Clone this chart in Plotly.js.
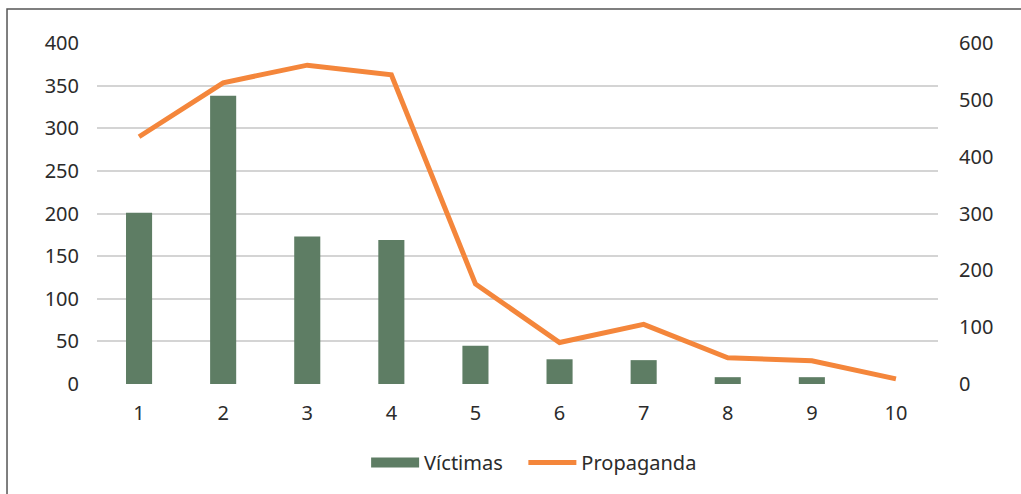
<!DOCTYPE html>
<html>
<head>
<meta charset="utf-8">
<script src="https://cdn.plot.ly/plotly-3.0.1.min.js"></script>
<style>
  html, body { margin: 0; padding: 0; background: #ffffff; }
  #chart { width: 1021px; height: 494px; }
</style>
</head>
<body>
<div id="chart"></div>
<script>
const categories = ['1', '2', '3', '4', '5', '6', '7', '8', '9', '10'];
const victimas = [201, 338, 173, 169, 45, 29, 28, 8, 8, 0];
const propaganda = [435, 530, 561, 544, 176, 73, 105, 46, 41, 9];
const leftTicks = [0, 50, 100, 150, 200, 250, 300, 350, 400];
const rightTicks = [0, 100, 200, 300, 400, 500, 600];
const seriesNames = ['Víctimas', 'Propaganda'];

const font = { family: 'Noto Sans, Open Sans, sans-serif', size: 20, color: '#2b2b2b' };
const green = '#5e7d64';
const orange = '#f4863b';
const pad = '\u00a0\u00a0\u00a0';

const traces = [
  {
    type: 'bar',
    name: seriesNames[0],
    x: categories,
    y: victimas,
    marker: { color: green },
    width: 0.31,
    yaxis: 'y',
    showlegend: false,
    legendgroup: 'v'
  },
  {
    // legend entry for the bars (wide rectangle swatch)
    type: 'scatter',
    mode: 'lines',
    name: seriesNames[0] + pad,
    x: [null],
    y: [null],
    line: { color: green, width: 12 },
    legendgroup: 'v',
    hoverinfo: 'skip'
  },
  {
    type: 'scatter',
    mode: 'lines',
    name: seriesNames[1],
    x: categories,
    y: propaganda,
    line: { color: orange, width: 5 },
    yaxis: 'y2'
  }
];

const layout = {
  width: 1021,
  height: 494,
  margin: { l: 97, r: 83, t: 43, b: 107 },
  paper_bgcolor: '#ffffff',
  plot_bgcolor: '#ffffff',
  font: font,
  showlegend: true,
  legend: {
    orientation: 'h',
    x: 0.32, xanchor: 'left',
    y: -0.23, yanchor: 'middle',
    font: font,
    itemwidth: 48,
    traceorder: 'normal'
  },
  xaxis: {
    type: 'category',
    range: [-0.5, 9.5],
    showgrid: false,
    zeroline: false,
    showline: false,
    ticks: '',
    tickfont: font,
    ticklabelstandoff: 15
  },
  yaxis: {
    range: [0, 400],
    tickvals: leftTicks,
    ticktext: leftTicks.map(String),
    showgrid: true,
    gridcolor: '#d4d4d4',
    gridwidth: 2,
    zeroline: false,
    showline: false,
    ticks: '',
    tickfont: font,
    ticklabelstandoff: 17
  },
  yaxis2: {
    overlaying: 'y',
    side: 'right',
    range: [0, 600],
    tickvals: rightTicks,
    ticktext: rightTicks.map(String),
    showgrid: false,
    zeroline: false,
    showline: false,
    ticks: '',
    tickfont: font,
    ticklabelstandoff: 20
  },
  shapes: [
    {
      type: 'rect',
      xref: 'paper', yref: 'paper',
      x0: -0.107, x1: 1.12,
      y0: -0.33, y1: 1.1,
      line: { color: '#555555', width: 1.5 },
      fillcolor: 'rgba(0,0,0,0)',
      layer: 'below'
    }
  ]
};

Plotly.newPlot('chart', traces, layout, { displayModeBar: false, staticPlot: true });
</script>
</body>
</html>
